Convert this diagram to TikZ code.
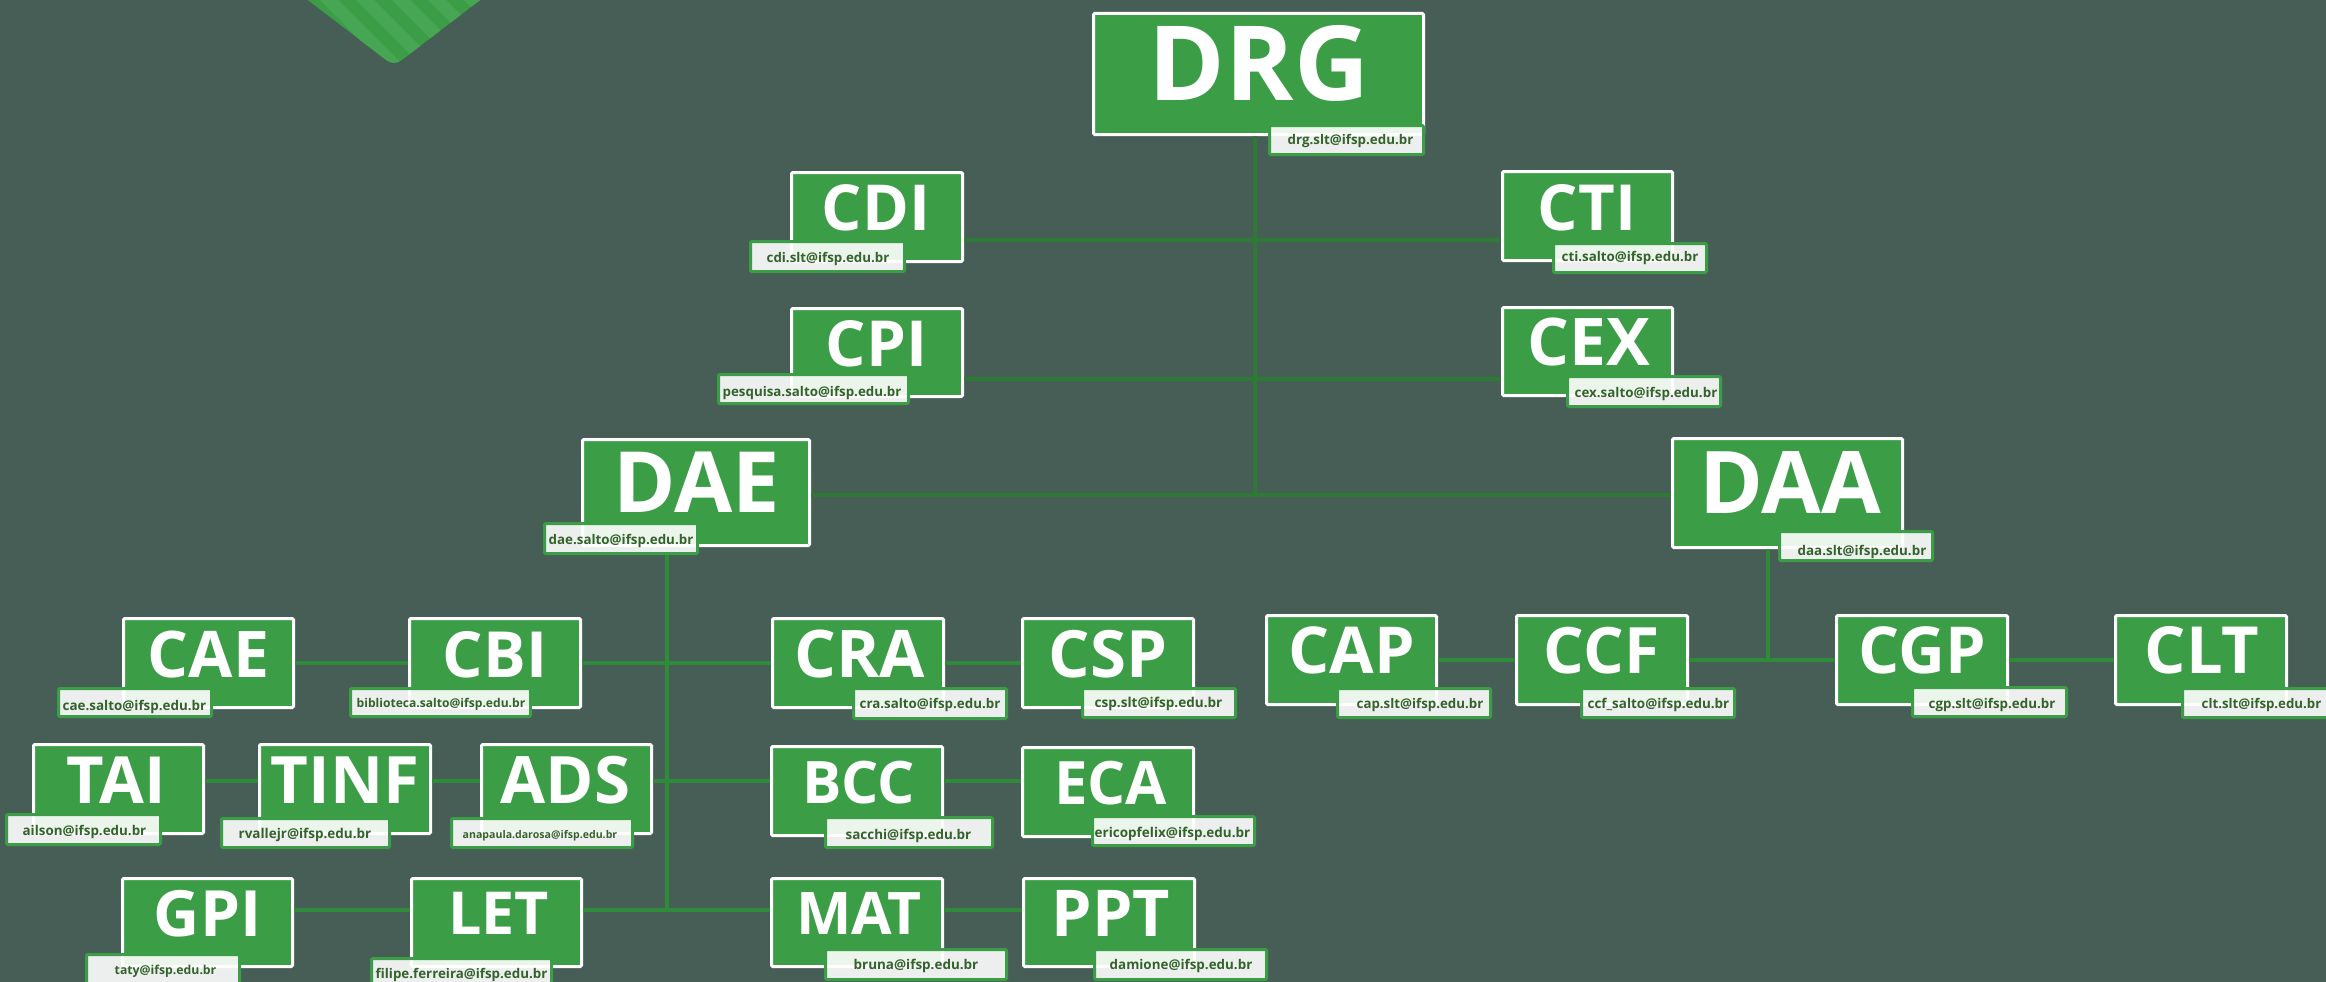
\documentclass[tikz,border=0pt]{standalone}
\usepackage{fontspec}
\setmainfont{Open Sans}
\definecolor{bgc}{HTML}{475E56}
\definecolor{boxg}{HTML}{3B9E47}
\definecolor{stripeg}{HTML}{46A654}
\definecolor{linkd}{HTML}{2C7A33}
\definecolor{linkg}{HTML}{2F8B3A}
\definecolor{mailt}{HTML}{33632B}
\tikzset{
  x=1pt,y=-1pt,
  orgbox/.style={rectangle,draw=white,fill=boxg,line width=3pt,rounded corners=1.2pt,inner sep=0pt},
  mailbox/.style={rectangle,draw=boxg,line width=3pt,fill=white,fill opacity=.9,draw opacity=1,text opacity=1,rounded corners=1.2pt,inner sep=0pt},
  titletext/.style={anchor=base,inner sep=0pt,outer sep=0pt,text=white},
  mailtext/.style={anchor=base,inner sep=0pt,outer sep=0pt,text=mailt},
  topline/.style={draw=linkd,line width=3.5pt},
  subline/.style={draw=linkg,line width=3.5pt},
  trunkline/.style={draw=linkd,line width=4pt},
  subtrunk/.style={draw=linkg,line width=4pt}
}
\newlength\fitl
\newsavebox\fitb
% name, style, x1, x2, baseline, text, side bearing in em: font size fitted to printed width
\newcommand\fittext[7]{%
  \pgfinterruptpicture
  \global\sbox\fitb{\bfseries\fontsize{10}{10}\selectfont #6}%
  \endpgfinterruptpicture
  \setlength\fitl{\wd\fitb}%
  \pgfmathsetmacro\fitfs{10*(#4-#3)/(\fitl-10*#7)}%
  \node[#2,font=\bfseries\fontsize{\fitfs}{\fitfs}\selectfont] (#1) at ({(#3+#4)/2},#5) {#6};}
% name, x1,y1,x2,y2, title, tx1,tx2,baseline
\newcommand\orgbox[9]{%
  \node[orgbox,minimum width={(#4-#2-3)*1pt},minimum height={(#5-#3-3)*1pt}] (#1) at ({(#2+#4)/2},{(#3+#5)/2}) {};
  \fittext{#1title}{titletext}{#7}{#8}{#9}{#6}{.10}}
\newcommand\mailbox[9]{%
  \node[mailbox,minimum width={(#4-#2-3)*1pt},minimum height={(#5-#3-3)*1pt}] (#1) at ({(#2+#4)/2},{(#3+#5)/2}) {};
  \fittext{#1text}{mailtext}{#7}{#8}{#9}{#6}{.05}}
\begin{document}
\begin{tikzpicture}
\useasboundingbox (0,0) rectangle (2326,982);
\fill[bgc] (0,0) rectangle (2326,982);
% top-left tab
\begin{scope}
  \clip[rounded corners=9pt] (300,-6) -- (394,66) -- (488,-6) -- cycle;
  \fill[boxg] (290,-10) rectangle (500,80);
  \foreach \k in {0,...,7}{
    \draw[stripeg,line width=13pt] ({247+\k*36},-10) -- ({347+\k*36},90);
  }
\end{scope}
\coordinate (rowCDI) at (1255,240);
\coordinate (rowCPI) at (1255,379);
\coordinate (rowDAE) at (1255,495);
\coordinate (rowOne) at (667,663);
\coordinate (rowTwo) at (667,781);
\coordinate (rowThree) at (667,910);
\coordinate (rowRight) at (1768,660);

\orgbox{drg}{1092}{12}{1425}{136}{DRG}{1154}{1364}{100}
\orgbox{cdi}{790}{171}{964}{263}{CDI}{825}{927}{230}
\orgbox{cpi}{790}{307}{964}{398}{CPI}{829}{924}{366}
\orgbox{cti}{1501}{170}{1674}{262}{CTI}{1541}{1633}{230}
\orgbox{cex}{1501}{306}{1674}{397}{CEX}{1531}{1647}{365}
\orgbox{dae}{581}{438}{811}{547}{DAE}{618}{776}{512}
\orgbox{daa}{1671}{437}{1904}{549}{DAA}{1704}{1877}{513}
\orgbox{cae}{122}{617}{295}{709}{CAE}{151}{266}{677}
\orgbox{cbi}{408}{617}{582}{709}{CBI}{446}{544}{677}
\orgbox{cra}{771}{617}{945}{709}{CRA}{798}{922}{677}
\orgbox{csp}{1021}{617}{1195}{709}{CSP}{1052}{1164}{677}
\orgbox{tai}{32}{743}{205}{835}{TAI}{70}{163}{803}
\orgbox{tinf}{258}{743}{432}{835}{TINF}{274}{416}{803}
\orgbox{ads}{480}{743}{653}{835}{ADS}{504}{627}{803}
\orgbox{bcc}{770}{745}{944}{837}{BCC}{805}{912}{803}
\orgbox{eca}{1021}{746}{1195}{838}{ECA}{1057}{1164}{804}
\orgbox{gpi}{121}{877}{294}{968}{GPI}{157}{258}{936}
\orgbox{let}{410}{877}{583}{968}{LET}{451}{546}{934}
\orgbox{mat}{770}{877}{944}{968}{MAT}{799}{919}{934}
\orgbox{ppt}{1022}{877}{1196}{968}{PPT}{1055}{1167}{936}
\orgbox{cap}{1265}{614}{1438}{706}{CAP}{1292}{1412}{673}
\orgbox{ccf}{1515}{614}{1689}{706}{CCF}{1547}{1656}{673}
\orgbox{cgp}{1835}{614}{2009}{706}{CGP}{1862}{1983}{673}
\orgbox{clt}{2114}{614}{2288}{706}{CLT}{2148}{2256}{673}

\mailbox{drgm}{1268}{124}{1425}{156}{drg.slt@ifsp.edu.br}{1288}{1413}{144}
\mailbox{cdim}{749}{240}{906}{273}{cdi.slt@ifsp.edu.br}{767}{889}{262}
\mailbox{cpim}{717}{373}{910}{405}{pesquisa.salto@ifsp.edu.br}{723}{901}{396}
\mailbox{ctim}{1552}{242}{1708}{274}{cti.salto@ifsp.edu.br}{1562}{1698}{261}
\mailbox{cexm}{1566}{375}{1722}{408}{cex.salto@ifsp.edu.br}{1575}{1717}{397}
\mailbox{daem}{543}{522}{699}{555}{dae.salto@ifsp.edu.br}{549}{693}{544}
\mailbox{daam}{1778}{530}{1934}{562}{daa.slt@ifsp.edu.br}{1798}{1926}{555}
\mailbox{caem}{57}{687}{213}{718}{cae.salto@ifsp.edu.br}{63}{206}{710}
\mailbox{cbim}{349}{687}{532}{718}{biblioteca.salto@ifsp.edu.br}{357}{525}{707}
\mailbox{cram}{852}{687}{1008}{720}{cra.salto@ifsp.edu.br}{860}{1000}{708}
\mailbox{cspm}{1081}{687}{1237}{719}{csp.slt@ifsp.edu.br}{1095}{1222}{707}
\mailbox{taim}{5}{813}{162}{846}{ailson@ifsp.edu.br}{23}{146}{835}
\mailbox{tinfm}{220}{817}{391}{849}{rvallejr@ifsp.edu.br}{239}{371}{838}
\mailbox{adsm}{450}{817}{634}{849}{anapaula.darosa@ifsp.edu.br}{463}{617}{838}
\mailbox{bccm}{824}{816}{994}{849}{sacchi@ifsp.edu.br}{846}{971}{839}
\mailbox{ecam}{1091}{815}{1256}{847}{ericopfelix@ifsp.edu.br}{1095}{1250}{837}
\mailbox{gpim}{85}{953}{241}{986}{taty@ifsp.edu.br}{115}{216}{974}
\mailbox{letm}{370}{957}{553}{990}{filipe.ferreira@ifsp.edu.br}{376}{547}{978}
\mailbox{matm}{824}{948}{1008}{981}{bruna@ifsp.edu.br}{854}{978}{969}
\mailbox{pptm}{1093}{948}{1268}{981}{damione@ifsp.edu.br}{1110}{1252}{969}
\mailbox{capm}{1336}{687}{1492}{719}{cap.slt@ifsp.edu.br}{1357}{1483}{708}
\mailbox{ccfm}{1580}{687}{1736}{719}{ccf\_salto@ifsp.edu.br}{1588}{1729}{708}
\mailbox{cgpm}{1911}{686}{2068}{718}{cgp.slt@ifsp.edu.br}{1929}{2055}{708}
\mailbox{cltm}{2181}{687}{2337}{719}{clt.slt@ifsp.edu.br}{2202}{2321}{708}

% connectors
\draw[trunkline] (drg.south -| rowDAE) -- (rowDAE);
\draw[topline] (cdi.east |- rowCDI) -- (cti.west |- rowCDI);
\draw[topline] (cpi.east |- rowCPI) -- (cex.west |- rowCPI);
\draw[topline] (dae.east |- rowDAE) -- (daa.west |- rowDAE);
\draw[subtrunk] (daem.south -| rowOne) -- (rowThree);
\draw[subline] (cae.east |- rowOne) -- (cbi.west |- rowOne);
\draw[subline] (cbi.east |- rowOne) -- (cra.west |- rowOne);
\draw[subline] (cra.east |- rowOne) -- (csp.west |- rowOne);
\draw[subline] (tai.east |- rowTwo) -- (tinf.west |- rowTwo);
\draw[subline] (tinf.east |- rowTwo) -- (ads.west |- rowTwo);
\draw[subline] (ads.east |- rowTwo) -- (bcc.west |- rowTwo);
\draw[subline] (bcc.east |- rowTwo) -- (eca.west |- rowTwo);
\draw[subline] (gpi.east |- rowThree) -- (let.west |- rowThree);
\draw[subline] (let.east |- rowThree) -- (mat.west |- rowThree);
\draw[subline] (mat.east |- rowThree) -- (ppt.west |- rowThree);
\draw[subtrunk] (daa.south -| rowRight) -- (rowRight);
\draw[subline] (cap.east |- rowRight) -- (ccf.west |- rowRight);
\draw[subline] (ccf.east |- rowRight) -- (cgp.west |- rowRight);
\draw[subline] (cgp.east |- rowRight) -- (clt.west |- rowRight);
\end{tikzpicture}
\end{document}
